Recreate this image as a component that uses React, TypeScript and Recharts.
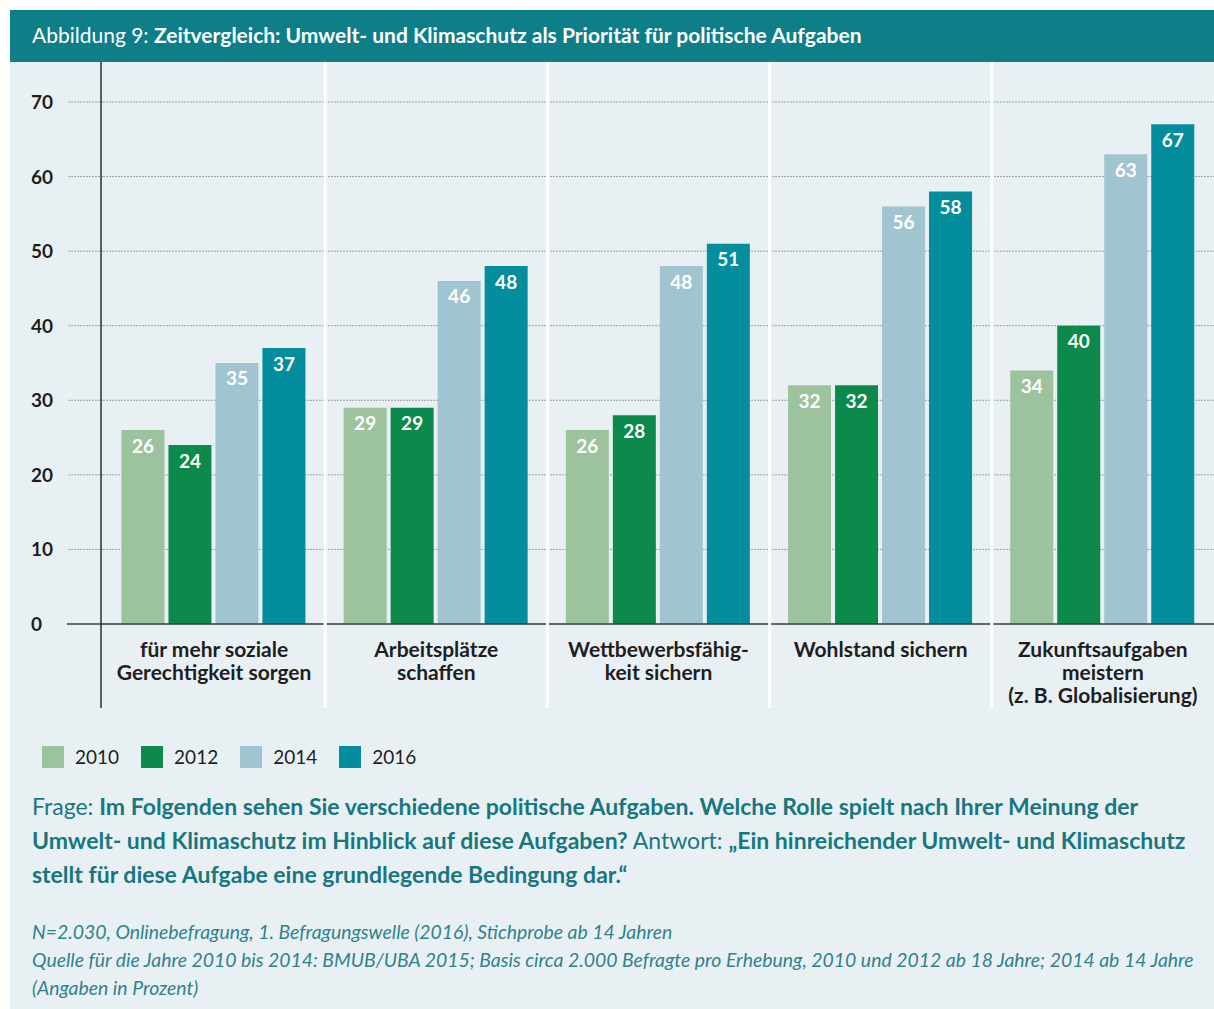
import { BarChart, Bar, XAxis, YAxis, CartesianGrid, LabelList } from "recharts";

const categories = [
    "für mehr soziale\nGerechtigkeit sorgen",
    "Arbeitsplätze\nschaffen",
    "Wettbewerbsfähig-\nkeit sichern",
    "Wohlstand sichern",
    "Zukunftsaufgaben\nmeistern\n(z. B. Globalisierung)",
];
const years = ["2010", "2012", "2014", "2016"];
const values2010 = [26, 29, 26, 32, 34];
const values2012 = [24, 29, 28, 32, 40];
const values2014 = [35, 46, 48, 56, 63];
const values2016 = [37, 48, 51, 58, 67];
const yTicks = [0, 10, 20, 30, 40, 50, 60, 70];

const colors = ["#9cc39d", "#0b8a4b", "#a0c5d0", "#038d9d"];

const data = categories.map((name, i) => ({
    name,
    y2010: values2010[i],
    y2012: values2012[i],
    y2014: values2014[i],
    y2016: values2016[i],
}));

const FONT = "Lato, 'Noto Sans', sans-serif";
const CHART_W = 1214;
const CHART_H = 647;
const MARGIN_TOP = 40;
const Y_AXIS_W = 103;
const X_AXIS_H = 85;
const PLOT_W = CHART_W - Y_AXIS_W;
const AXIS_Y = CHART_H - X_AXIS_H;
const STEP = PLOT_W / categories.length;

const YTick = ({ y, payload }: any) => {
    const zero = payload.value === 0;
    return (
        <g>
            <line
                x1={zero ? 67 : 68}
                x2={Y_AXIS_W}
                y1={y}
                y2={y}
                stroke={zero ? "#3a3f42" : "#9aa3a7"}
                strokeWidth={zero ? 1.5 : 1}
                strokeDasharray={zero ? undefined : "2 1"}
            />
            <text x={31} y={y} dy={7} textAnchor="start" fontFamily={FONT} fontWeight={700} fontSize={19} fill="#1e1e1e">
                {payload.value}
            </text>
        </g>
    );
};

const XTick = ({ x, payload, index }: any) => {
    const lines = String(payload.value).split("\n");
    const left = x - STEP / 2;
    return (
        <g>
            {index === 0 ? (
                <line x1={left - 2} x2={left - 2} y1={0} y2={CHART_H - 1} stroke="#2b2f31" strokeWidth={1.5} />
            ) : (
                <line x1={left} x2={left} y1={0} y2={CHART_H - 1} stroke="#ffffff" strokeWidth={3} />
            )}
            <text x={x} y={AXIS_Y + 33} textAnchor="middle" fontFamily={FONT} fontWeight={700} fontSize={21} fill="#1e1e1e">
                {lines.map((l, i) => (
                    <tspan key={i} x={x} dy={i === 0 ? 0 : 23}>
                        {l}
                    </tspan>
                ))}
            </text>
        </g>
    );
};

export default function App() {
    return (
        <div style={{ position: "absolute", left: 0, top: 0, width: 1214, height: 1009, background: "#ffffff", fontFamily: FONT }}>
            <div style={{ position: "absolute", left: 10, top: 10, width: 1204, height: 999, background: "#e9f0f4" }} />
            <div
                style={{
                    position: "absolute",
                    left: 10,
                    top: 10,
                    width: 1204,
                    height: 52,
                    background: "#0e7e88",
                    color: "#ffffff",
                    fontSize: 21,
                    lineHeight: "50px",
                    boxSizing: "border-box",
                    paddingLeft: 22,
                }}
            >
                Abbildung 9: <b>Zeitvergleich: Umwelt- und Klimaschutz als Priorität für politische Aufgaben</b>
            </div>
            <div style={{ position: "absolute", left: 0, top: 62 }}>
                <BarChart
                    width={CHART_W}
                    height={CHART_H}
                    data={data}
                    margin={{ top: MARGIN_TOP, right: 0, bottom: 0, left: 0 }}
                    barCategoryGap="8.3%"
                    barGap={4}
                >
                    <CartesianGrid horizontal vertical={false} stroke="#9aa3a7" strokeDasharray="2 1" />
                    <YAxis
                        width={Y_AXIS_W}
                        domain={[0, 70]}
                        ticks={yTicks}
                        axisLine={false}
                        tickLine={false}
                        tick={<YTick />}
                        interval={0}
                    />
                    <XAxis
                        dataKey="name"
                        height={X_AXIS_H}
                        axisLine={{ stroke: "#3a3f42", strokeWidth: 1.5 }}
                        tickLine={false}
                        tick={<XTick />}
                        interval={0}
                    />
                    {years.map((yr, i) => (
                        <Bar key={yr} dataKey={`y${yr}`} name={yr} fill={colors[i]} isAnimationActive={false}>
                            <LabelList
                                dataKey={`y${yr}`}
                                position="insideTop"
                                offset={9}
                                fill="#ffffff"
                                fontFamily={FONT}
                                fontWeight={700}
                                fontSize={19}
                            />
                        </Bar>
                    ))}
                </BarChart>
            </div>
            <div style={{ position: "absolute", left: 42, top: 745, display: "flex", alignItems: "center", fontSize: 19, color: "#1e1e1e" }}>
                {years.map((yr, i) => (
                    <div key={yr} style={{ display: "flex", alignItems: "center", marginRight: 22 }}>
                        <div style={{ width: 22, height: 22, background: colors[i], marginRight: 11 }} />
                        <span>{yr}</span>
                    </div>
                ))}
            </div>
            <div style={{ position: "absolute", left: 32, top: 789, width: 1182, fontSize: 23, lineHeight: "34px", color: "#17777e", whiteSpace: "nowrap" }}>
                Frage: <b>Im Folgenden sehen Sie verschiedene politische Aufgaben. Welche Rolle spielt nach Ihrer Meinung der</b>
                <br />
                <b>Umwelt- und Klimaschutz im Hinblick auf diese Aufgaben?</b> Antwort: <b>„Ein hinreichender Umwelt- und Klimaschutz</b>
                <br />
                <b>stellt für diese Aufgabe eine grundlegende Bedingung dar.“</b>
            </div>
            <div style={{ position: "absolute", left: 32, top: 918, width: 1182, fontSize: 19.4, lineHeight: "28px", color: "#2f838a", fontStyle: "italic", whiteSpace: "nowrap" }}>
                N=2.030, Onlinebefragung, 1. Befragungswelle (2016), Stichprobe ab 14 Jahren
                <br />
                Quelle für die Jahre 2010 bis 2014: BMUB/UBA 2015; Basis circa 2.000 Befragte pro Erhebung, 2010 und 2012 ab 18 Jahre; 2014 ab 14 Jahre
                <br />
                (Angaben in Prozent)
            </div>
        </div>
    );
}
